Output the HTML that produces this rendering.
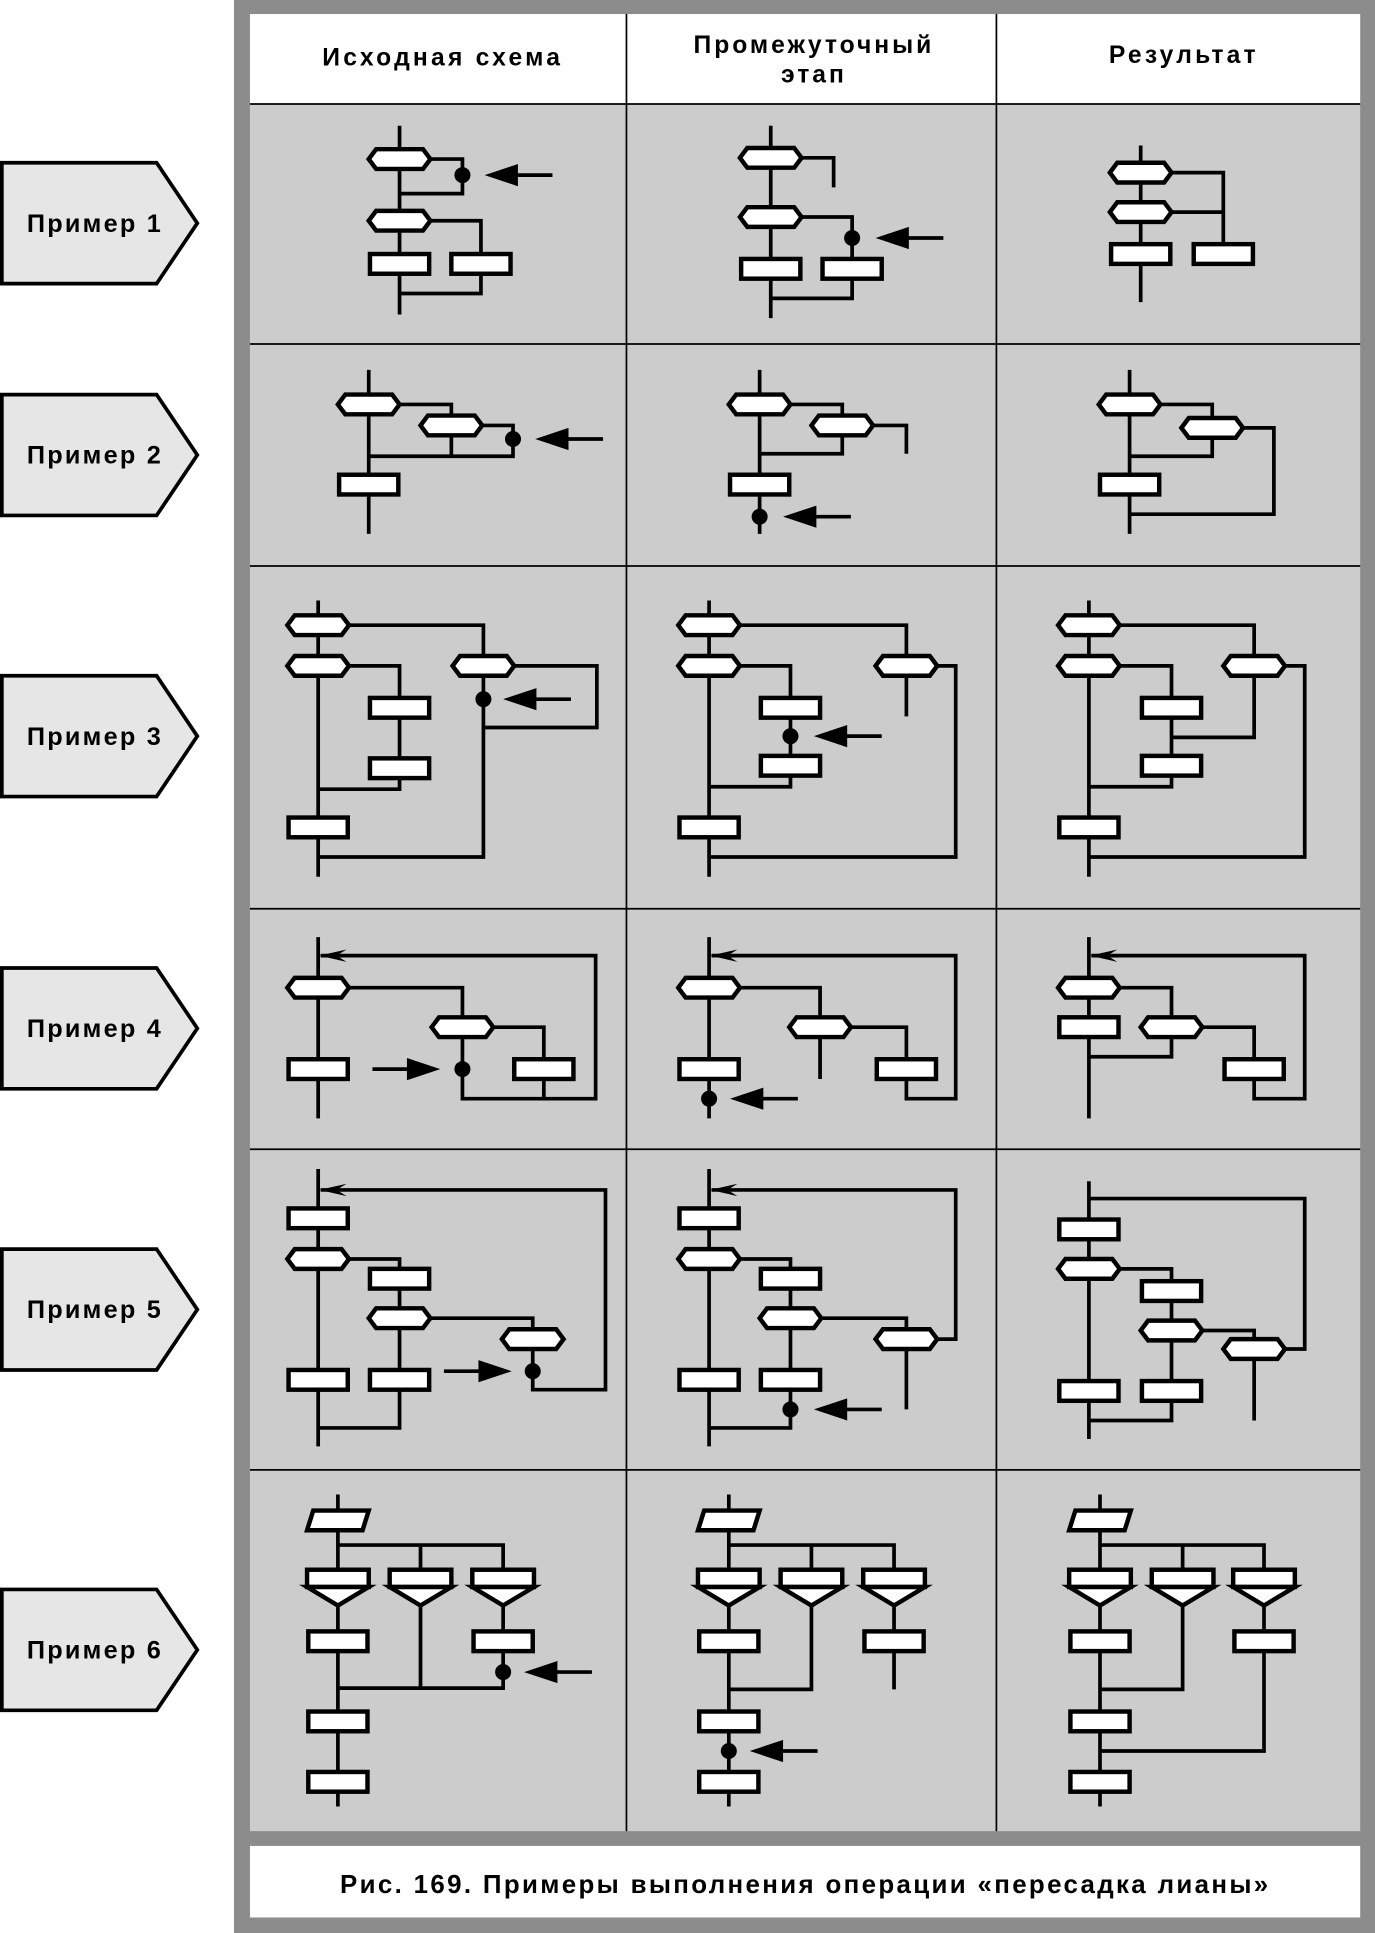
<!DOCTYPE html>
<html><head><meta charset="utf-8">
<style>
html,body{margin:0;padding:0;background:#fff;}
svg{display:block;}
text{font-family:"Liberation Sans",sans-serif;font-weight:bold;fill:#000;}
</style></head>
<body>
<svg id="s" width="1375" height="1933" viewBox="0 0 1115 1567.6" preserveAspectRatio="none" xmlns="http://www.w3.org/2000/svg">
<rect x="0" y="0" width="1115" height="1568" fill="#fff"/>
<rect x="189.7" y="0" width="926" height="1568" fill="#8c8c8c"/>
<rect x="202.7" y="11.4" width="900.3" height="73" fill="#fff"/>
<rect x="202.7" y="84.3" width="900.3" height="1400.7" fill="#ccc"/>
<g stroke="#000" stroke-width="1.4" fill="none">
<line x1="202.7" y1="84.3" x2="1103" y2="84.3"/>
<line x1="202.7" y1="279" x2="1103" y2="279"/>
<line x1="202.7" y1="459" x2="1103" y2="459"/>
<line x1="202.7" y1="737" x2="1103" y2="737"/>
<line x1="202.7" y1="932" x2="1103" y2="932"/>
<line x1="202.7" y1="1192" x2="1103" y2="1192"/>
<line x1="508" y1="11.4" x2="508" y2="1485"/>
<line x1="808" y1="11.4" x2="808" y2="1485"/>
</g>
<rect x="202.7" y="1497" width="900.3" height="58" fill="#fff"/>
<text x="359" y="53" font-size="20" text-anchor="middle" letter-spacing="2.6">Исходная схема</text>
<text x="660" y="43" font-size="20" text-anchor="middle" letter-spacing="2.4">Промежуточный</text>
<text x="660" y="67" font-size="20" text-anchor="middle" letter-spacing="2.4">этап</text>
<text x="960" y="51" font-size="20" text-anchor="middle" letter-spacing="2.6">Результат</text>
<text x="653" y="1535" font-size="21" text-anchor="middle" letter-spacing="1.9">Рис. 169. Примеры выполнения операции «пересадка лианы»</text>
<g id="g"></g>
</svg>
<script>
var out=[];var SW=3.6;
function L(pts){var d='M'+pts.map(function(p){return p[0]+' '+p[1]}).join(' L');out.push('<path d="'+d+'" fill="none" stroke="#000" stroke-width="3"/>');}
function hex(cx,cy){var p=[[cx-25,cy],[cx-19,cy-8],[cx+19,cy-8],[cx+25,cy],[cx+19,cy+8],[cx-19,cy+8]];out.push('<polygon points="'+p.join(' ')+'" fill="#fff" stroke="#000" stroke-width="'+SW+'"/>');}
function rc(cx,cy){out.push('<rect x="'+(cx-24)+'" y="'+(cy-8)+'" width="48" height="16" fill="#fff" stroke="#000" stroke-width="'+SW+'"/>');}
function par(cx,cy){var p=[[cx-20,cy-8],[cx+25,cy-8],[cx+20,cy+8],[cx-25,cy+8]];out.push('<polygon points="'+p.join(' ')+'" fill="#fff" stroke="#000" stroke-width="'+SW+'"/>');}
function pent(cx,y){out.push('<rect x="'+(cx-25)+'" y="'+y+'" width="50" height="14" fill="#fff" stroke="#000" stroke-width="'+SW+'"/>');var p=[[cx-25,y+14],[cx+25,y+14],[cx,y+29]];out.push('<polygon points="'+p.join(' ')+'" fill="#fff" stroke="#000" stroke-width="'+SW+'"/>');}
function dot(x,y){out.push('<circle cx="'+x+'" cy="'+y+'" r="6.5" fill="#000"/>');}
function arL(x,y){out.push('<polygon points="'+x+','+y+' '+(x+27)+','+(y-9)+' '+(x+27)+','+(y+9)+'" fill="#000"/>');L([[x+25,y],[x+55,y]]);}
function arR(x,y){out.push('<polygon points="'+x+','+y+' '+(x-27)+','+(y-9)+' '+(x-27)+','+(y+9)+'" fill="#000"/>');L([[x-25,y],[x-55,y]]);}
function sm(x,y){out.push('<polygon points="'+(x+1)+','+y+' '+(x+23)+','+(y-5)+' '+(x+15)+','+y+' '+(x+23)+','+(y+5)+'" fill="#000"/>');}
function lab(cy,n){var p=[[1.5,cy-49],[127,cy-49],[160,cy],[127,cy+49],[1.5,cy+49]];out.push('<polygon points="'+p.join(' ')+'" fill="#e6e6e6" stroke="#000" stroke-width="3"/>');out.push('<text x="77" y="'+(cy+7)+'" font-size="20.5" text-anchor="middle" letter-spacing="1.8">Пример '+n+'</text>');}
lab(181,1);lab(369,2);lab(597,3);lab(834,4);lab(1062,5);lab(1338,6);
// Ex1
L([[324,102],[324,255]]);L([[349,129],[375,129],[375,157],[324,157]]);L([[349,179],[390,179],[390,206]]);L([[390,222],[390,238],[324,238]]);
hex(324,129);hex(324,179);rc(324,214);rc(390,214);dot(375,142);arL(393,142);
L([[625,102],[625,258]]);L([[650,128],[676,128],[676,152]]);L([[650,176],[691,176],[691,210]]);L([[691,226],[691,242],[625,242]]);
hex(625,128);hex(625,176);rc(625,218);rc(691,218);dot(691,193);arL(710,193);
L([[925,118],[925,245]]);L([[950,140],[992,140],[992,198]]);L([[950,172],[992,172]]);
hex(925,140);hex(925,172);rc(925,206);rc(992,206);
// Ex2
L([[299,300],[299,433]]);L([[324,328],[366,328],[366,345]]);L([[391,345],[416,345],[416,370],[299,370]]);L([[366,345],[366,370]]);
hex(299,328);hex(366,345);rc(299,393);dot(416,356);arL(434,356);
L([[616,300],[616,433]]);L([[641,328],[683,328],[683,345]]);L([[708,345],[735,345],[735,368]]);L([[683,345],[683,368],[616,368]]);
hex(616,328);hex(683,345);rc(616,393);dot(616,419);arL(635,419);
L([[916,300],[916,433]]);L([[941,328],[983,328],[983,347]]);L([[1008,347],[1033,347],[1033,417],[916,417]]);L([[983,347],[983,370],[916,370]]);
hex(916,328);hex(983,347);rc(916,393);
// Ex3
L([[258,487],[258,711]]);L([[283,507],[392,507],[392,540]]);L([[283,540],[324,540],[324,640],[258,640]]);L([[417,540],[484,540],[484,590],[392,590]]);L([[392,540],[392,695],[258,695]]);
hex(258,507);hex(258,540);hex(392,540);rc(324,574);rc(324,623);rc(258,671);dot(392,567);arL(408,567);
L([[575,487],[575,711]]);L([[600,507],[735,507],[735,581]]);L([[760,540],[775,540],[775,695],[575,695]]);L([[600,540],[641,540],[641,638],[575,638]]);
hex(575,507);hex(575,540);hex(735,540);rc(641,574);rc(641,621);rc(575,671);dot(641,597);arL(660,597);
L([[883,487],[883,711]]);L([[908,507],[1017,507],[1017,598],[950,598]]);L([[1042,540],[1058,540],[1058,695],[883,695]]);L([[908,540],[950,540],[950,638],[883,638]]);
hex(883,507);hex(883,540);hex(1017,540);rc(950,574);rc(950,621);rc(883,671);
// Ex4
L([[258,760],[258,907]]);L([[260,775],[483,775],[483,891],[375,891],[375,833]]);sm(258,775);L([[283,801],[375,801],[375,833]]);L([[400,833],[441,833],[441,891]]);
hex(258,801);hex(375,833);rc(258,867);rc(441,867);dot(375,867);arR(357,867);
L([[575,760],[575,907]]);L([[577,775],[775,775],[775,891],[735,891],[735,867]]);sm(575,775);L([[600,801],[665,801],[665,875]]);L([[690,833],[735,833],[735,867]]);
hex(575,801);hex(665,833);rc(575,867);rc(735,867);dot(575,891);arL(592,891);
L([[883,760],[883,907]]);L([[885,775],[1058,775],[1058,891],[1017,891],[1017,867]]);sm(883,775);L([[908,801],[950,801],[950,857],[883,857]]);L([[975,833],[1017,833],[1017,867]]);
hex(883,801);rc(883,833);hex(950,833);rc(1017,867);
// Ex5
L([[258,948],[258,1173]]);L([[260,965],[491,965],[491,1127],[432,1127],[432,1086]]);sm(258,965);L([[283,1021],[324,1021],[324,1158],[258,1158]]);L([[349,1069],[432,1069],[432,1086]]);
rc(258,988);hex(258,1021);rc(324,1037);hex(324,1069);hex(432,1086);rc(324,1119);rc(258,1119);dot(432,1112);arR(415,1112);
L([[575,948],[575,1173]]);L([[577,965],[775,965],[775,1086],[760,1086]]);sm(575,965);L([[600,1021],[641,1021],[641,1158],[575,1158]]);L([[666,1069],[735,1069],[735,1143]]);
rc(575,988);hex(575,1021);rc(641,1037);hex(641,1069);hex(735,1086);rc(641,1119);rc(575,1119);dot(641,1143);arL(660,1143);
L([[883,958],[883,1167]]);L([[883,972],[1058,972],[1058,1094],[1042,1094]]);L([[908,1029],[950,1029],[950,1152],[883,1152]]);L([[975,1079],[1017,1079],[1017,1152]]);
rc(883,997);hex(883,1029);rc(950,1047);hex(950,1079);hex(1017,1094);rc(950,1128);rc(883,1128);
// Ex6
L([[274,1212],[274,1465]]);L([[274,1253],[408,1253],[408,1273]]);L([[341,1253],[341,1369]]);L([[408,1300],[408,1369],[274,1369]]);
par(274,1233);pent(274,1273);pent(341,1273);pent(408,1273);rc(274,1331);rc(408,1331);rc(274,1396);rc(274,1445);dot(408,1356);arL(425,1356);
L([[591,1212],[591,1465]]);L([[591,1253],[725,1253],[725,1370]]);L([[658,1253],[658,1370],[591,1370]]);
par(591,1233);pent(591,1273);pent(658,1273);pent(725,1273);rc(591,1331);rc(725,1331);rc(591,1396);rc(591,1445);dot(591,1420);arL(608,1420);
L([[892,1212],[892,1465]]);L([[892,1253],[1025,1253],[1025,1420],[892,1420]]);L([[959,1253],[959,1370],[892,1370]]);
par(892,1233);pent(892,1273);pent(959,1273);pent(1025,1273);rc(892,1331);rc(1025,1331);rc(892,1396);rc(892,1445);
document.getElementById('g').innerHTML=out.join('');
</script>
</body></html>
